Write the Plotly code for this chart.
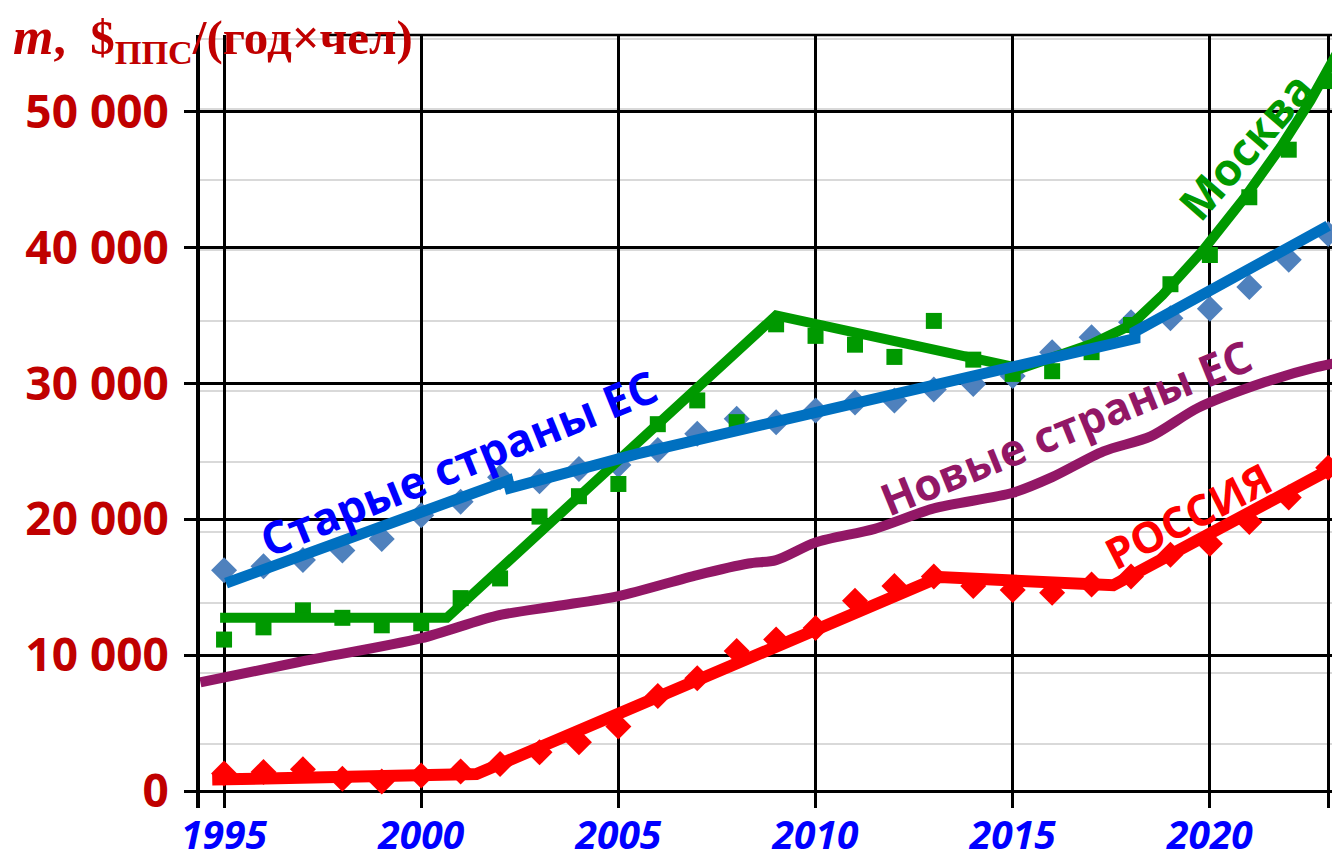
import plotly.graph_objects as go

# years of the yearly points
years = [1995, 1996, 1997, 1998, 1999, 2000, 2001, 2002, 2003, 2004,
         2005, 2006, 2007, 2008, 2009, 2010, 2011, 2012, 2013, 2014,
         2015, 2016, 2017, 2018, 2019, 2020, 2021, 2022, 2023]

# yearly values, $ PPP per person per year
russia_pts = [1300, 1400, 1600, 900, 700, 1150, 1450, 2000, 2850, 3600,
              4750, 7000, 8300, 10300, 11150, 12000, 14000, 15100, 15800, 15100,
              14800, 14600, 15200, 15800, 17400, 18200, 19800, 21600, 23800]
moscow_pts = [11150, 12050, 13300, 12750, 12200, 12350, 14200, 15650, 20200, 21700,
              22600, 27000, 28750, 27150, 34350, 33500, 32850, 31950, 34600, 31750,
              30700, 30900, 32300, 34300, 37300, 39450, 43700, 47200, 52250]
old_eu_pts = [16250, 16550, 17000, 17700, 18550, 20300, 21300, 23100, 22800, 23700,
              24000, 25100, 26300, 27400, 27150, 28000, 28600, 28750, 29550, 29950,
              30550, 32300, 33400, 34500, 34800, 35500, 37100, 39100, 41000]

# trend lines
russia_trend_x = [1994.7, 2001.4, 2013.15, 2017.55, 2023.0]
russia_trend_y = [850, 1250, 15750, 15150, 23600]

moscow_trend_x = [1994.9, 2000.65, 2009.0, 2015.2, 2017.0, 2018.0, 2018.8,
                  2019.8, 2020.85, 2021.8, 2022.55, 2023.2]
moscow_trend_y = [12750, 12750, 35000, 31100, 32900, 34300, 36500,
                  39700, 43550, 47400, 50800, 54200]

old_eu_trend_x = [1995.05, 2002.2, 2002.25, 2005.45, 2018.1, 2018.1, 2023.0]
old_eu_trend_y = [15300, 22850, 22300, 24800, 33300, 33800, 41600]

new_eu_x = [1994.4, 1996.9, 2000.0, 2001.9, 2003.4, 2005.0, 2007.0, 2008.3, 2009.0, 2010.0,
            2011.5, 2013.0, 2015.0, 2016.0, 2017.3, 2018.5, 2019.7, 2021.4, 2022.7, 2023.2]
new_eu_y = [8000, 9500, 11250, 12900, 13600, 14350, 15900, 16750, 17000, 18300,
            19300, 20800, 21950, 23100, 25000, 26100, 28200, 30100, 31200, 31500]

x_ticks = [1995, 2000, 2005, 2010, 2015, 2020, 2023]
x_labels = ["1995", "2000", "2005", "2010", "2015", "2020", " "]
y_ticks = [0, 10000, 20000, 30000, 40000, 50000]
y_labels = ["0", "10 000", "20 000", "30 000", "40 000", "50 000"]

fig = go.Figure()

# yearly markers (under the lines)
fig.add_trace(go.Scatter(x=years, y=old_eu_pts, mode="markers",
                         marker=dict(symbol="diamond", size=20, color="#4f81bd")))
fig.add_trace(go.Scatter(x=years, y=moscow_pts, mode="markers",
                         marker=dict(symbol="square", size=16, color="#009900")))
fig.add_trace(go.Scatter(x=years, y=russia_pts, mode="markers",
                         marker=dict(symbol="diamond", size=20, color="#ff0000")))

# trend lines
fig.add_trace(go.Scatter(x=new_eu_x, y=new_eu_y, mode="lines",
                         line=dict(color="#921766", width=10, shape="spline", smoothing=0.8)))
fig.add_trace(go.Scatter(x=russia_trend_x, y=russia_trend_y, mode="lines",
                         line=dict(color="#ff0000", width=12)))
fig.add_trace(go.Scatter(x=moscow_trend_x, y=moscow_trend_y, mode="lines",
                         line=dict(color="#009900", width=10)))
fig.add_trace(go.Scatter(x=old_eu_trend_x, y=old_eu_trend_y, mode="lines",
                         line=dict(color="#0070c0", width=11)))

# series labels
labels = [
    ("Старые страны ЕС", 2000.95, 24150, -22, "#0000ff", 45),
    ("Новые страны ЕС", 2016.35, 26800, -22, "#921766", 44),
    ("РОССИЯ", 2019.45, 20300, -27, "#ff0000", 43),
    ("Москва", 2020.9, 47500, -49, "#009900", 45),
]
for text, lx, ly, ang, col, size in labels:
    fig.add_annotation(x=lx, y=ly, text=text, textangle=ang, showarrow=False,
                       font=dict(family="Open Sans", size=size, color=col, weight="bold"))

# axis title
fig.add_annotation(xref="paper", yref="paper", x=-0.166, y=0.994,
                   xanchor="left", yanchor="middle", showarrow=False,
                   text="<span style='font-size:52px'><i>m</i></span>,  $<sub>ППС</sub>/(год×чел)",
                   font=dict(family="Liberation Serif", size=49, color="#c00000", weight="bold"))

# top border
fig.add_shape(type="line", xref="x", yref="paper", x0=1997.6, x1=2023.3, y0=1, y1=1,
              line=dict(color="black", width=2.5))

# the page body adds a small offset, so the figure is 8 px smaller
fig.update_layout(
    width=1332, height=852,
    margin=dict(l=192, r=0, t=27, b=48),
    plot_bgcolor="white", paper_bgcolor="white",
    showlegend=False,
    xaxis=dict(range=[1994.39, 2023.3], tickvals=x_ticks, ticktext=x_labels,
               showgrid=True, gridcolor="black", gridwidth=2.5,
               zeroline=False, showline=False, ticks="",
               ticklabelstandoff=1,
               tickfont=dict(family="Open Sans", size=39, color="#0000ff",
                             weight="bold", style="italic")),
    yaxis=dict(range=[-1245, 55640], tickvals=y_ticks, ticktext=y_labels,
               showgrid=True, gridcolor="black", gridwidth=2.5,
               zeroline=False, showline=True, linecolor="black", linewidth=4,
               ticks="outside", ticklen=12, tickwidth=2.5, tickcolor="black",
               ticklabelstandoff=6,
               minor=dict(tick0=3480, dtick=5190, showgrid=True,
                          gridcolor="#d9d9d9", gridwidth=2),
               tickfont=dict(family="Open Sans", size=46, color="#c00000", weight="bold")),
)

fig.write_html("out.html")
